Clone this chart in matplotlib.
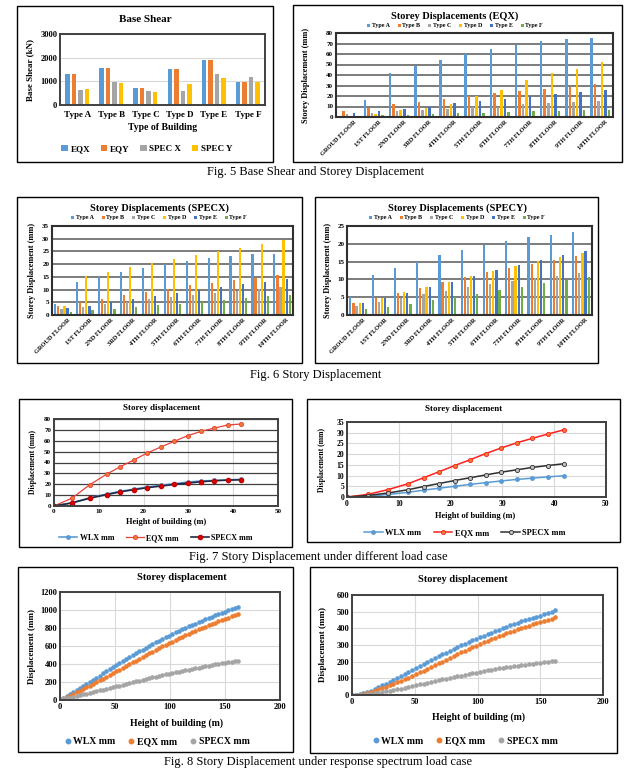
import matplotlib
matplotlib.use('Agg')
import matplotlib.pyplot as plt
from matplotlib.patches import Rectangle
from matplotlib.lines import Line2D
import numpy as np

# ---------------- DATA ----------------
building_types = ['Type A', 'Type B', 'Type C', 'Type D', 'Type E', 'Type F']
bs_eqx = [1300, 1570, 730, 1540, 1920, 990]
bs_eqy = [1300, 1570, 730, 1540, 1920, 990]
bs_specx = [620, 960, 590, 580, 1310, 1190]
bs_specy = [680, 930, 550, 880, 1160, 980]

floors = ['GROUD FLOOR', '1ST FLOOR', '2ND FLOOR', '3RD FLOOR', '4TH FLOOR', '5TH FLOOR',
          '6TH FLOOR', '7TH FLOOR', '8TH FLOOR', '9TH FLOOR', '10TH FLOOR']

eqx_a = [0, 16, 42, 49, 54.5, 60, 65, 68.5, 72, 74.5, 75.5]
eqx_b = [6, 8.5, 12, 14.5, 17.5, 20, 22.5, 25, 27, 29, 31]
eqx_c = [3, 4, 5.5, 7, 8, 10, 10, 12, 13, 14.5, 15]
eqx_d = [1, 3, 6.5, 8.5, 12.5, 20, 26, 35, 41.5, 46, 52]
eqx_e = [4, 6, 8, 10, 13, 15, 17.5, 20, 21.5, 23.5, 25.5]
eqx_f = [1, 1.5, 2, 2.5, 3.5, 4, 5, 5.5, 6, 7, 7]

specx_a = [4.3, 13, 15, 17, 18.5, 20, 21.3, 22.5, 23.2, 23.8, 24.1]
specx_b = [3.5, 5, 6.2, 7.8, 9, 10.3, 11.7, 12.7, 13.7, 14.6, 15.6]
specx_c = [2.5, 3.2, 4.3, 5.2, 6.2, 7.2, 8, 8.8, 9.5, 10.2, 10.9]
specx_d = [3.4, 15.2, 17, 18.7, 20.4, 21.9, 23.5, 25, 26.4, 27.8, 29.3]
specx_e = [2.6, 3.6, 5.1, 6.1, 7.3, 8.5, 9.9, 10.9, 12, 13.1, 14.2]
specx_f = [1.2, 1.9, 2.4, 3.1, 3.9, 4.3, 5.1, 5.8, 6.5, 7.3, 7.7]

specy_a = [5, 11.1, 13.1, 14.9, 16.8, 18.2, 19.6, 20.8, 21.8, 22.6, 23.3]
specy_b = [3.3, 4.9, 6.3, 7.7, 9.2, 10.7, 12, 13.3, 14.4, 15.5, 16.6]
specy_c = [2.6, 3.7, 4.8, 5.9, 6.8, 7.8, 8.7, 9.6, 10.4, 11, 11.8]
specy_d = [3.3, 4.9, 6.4, 7.8, 9.4, 10.9, 12.4, 13.8, 15.2, 16.3, 17.5]
specy_e = [3.3, 4.9, 6.3, 7.8, 9.4, 10.9, 12.6, 14, 15.4, 16.9, 18.1]
specy_f = [1.6, 2.3, 3.2, 4.1, 5, 6, 7, 8, 9, 9.9, 10.8]

# Fig 7
h7 = [0, 4, 8, 11.8, 14.8, 17.8, 20.8, 23.8, 26.8, 29.8, 32.8, 35.8, 38.8, 41.8]
f7a_wlx = [0, 3, 7.5, 11, 13.5, 15.5, 17.5, 19, 20.5, 22, 23, 23.5, 24, 24.5]
f7a_eqx = [0, 7.2, 19.6, 29.4, 36.1, 42.3, 48.7, 54.2, 59.4, 64.6, 68.6, 71.7, 74.5, 75.4]
f7a_specx = [0, 2.8, 7.2, 10.5, 13, 15, 16.8, 18.3, 19.8, 21, 22.3, 23.2, 23.8, 24.1]
f7b_wlx = [0, 0.3, 1.2, 2.2, 3.2, 4.1, 5, 5.9, 6.7, 7.5, 8.2, 8.8, 9.4, 9.9]
f7b_eqx = [0, 1.2, 3.5, 6.2, 9, 11.8, 14.7, 17.4, 20.3, 22.9, 25.3, 27.4, 29.4, 31.3]
f7b_specx = [0, 0.7, 1.9, 3.4, 4.9, 6.3, 7.7, 9, 10.3, 11.6, 12.7, 13.8, 14.7, 15.5]

# Fig 8
h8 = [0, 3, 6, 9, 12, 15, 18, 21, 24, 27, 30, 33, 36, 39, 42, 45, 48, 51, 54, 57, 60,
      63, 66, 69, 72, 75, 78, 81, 84, 87, 90, 93, 96, 99, 102, 105, 108, 111, 114, 117,
      120, 123, 126, 129, 132, 135, 138, 141, 144, 147, 150, 153, 156, 159, 162]
f8a_wlx = [0, 20, 42, 65, 88, 111, 134, 157, 180, 203, 226, 249, 272, 295, 318, 341, 364,
           387, 409, 431, 453, 475, 497, 518, 539, 560, 580, 600, 620, 640, 659, 678, 697,
           715, 733, 751, 768, 785, 801, 817, 833, 849, 865, 880, 895, 910, 925, 940, 954,
           968, 982, 996, 1010, 1024, 1038]
f8a_eqx = [0, 15, 32, 50, 68, 86, 104, 123, 142, 161, 180, 199, 218, 238, 258, 278, 298,
           318, 338, 358, 378, 398, 418, 438, 458, 478, 498, 518, 538, 557, 576, 595, 613,
           631, 649, 667, 684, 701, 718, 735, 752, 768, 784, 800, 815, 830, 845, 860, 874,
           888, 902, 916, 930, 944, 958]
f8a_specx = [0, 8, 17, 26, 35, 44, 53, 62, 71, 80, 89, 98, 107, 116, 125, 134, 143, 152,
             161, 170, 179, 188, 197, 206, 215, 224, 233, 242, 251, 260, 269, 277, 285, 293,
             301, 309, 316, 323, 330, 337, 344, 352, 360, 367, 374, 381, 388, 395, 402, 408,
             414, 420, 426, 432, 438]
f8b_wlx = [0, 1, 4, 10, 18, 27, 37, 47, 58, 69, 80, 91, 103, 115, 127, 139, 151, 163, 175,
           187, 199, 211, 222, 233, 244, 255, 266, 277, 288, 298, 308, 318, 328, 338, 348,
           357, 366, 375, 384, 393, 402, 410, 418, 426, 434, 442, 449, 456, 463, 470, 477,
           485, 493, 501, 509]
f8b_eqx = [0, 0, 2, 6, 12, 19, 26, 34, 42, 50, 59, 68, 77, 86, 95, 105, 115, 126, 136, 146,
           157, 168, 179, 190, 201, 212, 223, 234, 245, 256, 267, 277, 287, 297, 307, 317,
           327, 336, 345, 354, 363, 371, 379, 387, 395, 403, 410, 417, 424, 431, 438, 445,
           452, 459, 466]
f8b_specx = [0, 0, 1, 3, 6, 9, 12, 15, 19, 23, 27, 31, 35, 39, 44, 49, 54, 59, 64, 69, 74,
             79, 84, 89, 94, 99, 104, 108, 113, 117, 122, 126, 131, 135, 140, 144, 148, 152,
             156, 160, 164, 167, 171, 174, 177, 180, 183, 186, 189, 191, 194, 197, 200, 202,
             205]

# ---------------- STYLE ----------------
W, H = 635, 778
plt.rcParams['font.family'] = ['Liberation Serif', 'DejaVu Serif']
plt.rcParams['font.weight'] = 'bold'
C_BLUE, C_ORANGE, C_GREY, C_GOLD, C_DBLUE, C_GREEN = '#5B9BD5', '#ED7D31', '#A5A5A5', '#FFC000', '#4472C4', '#70AD47'
type_colors = [C_BLUE, C_ORANGE, C_GREY, C_GOLD, C_DBLUE, C_GREEN]

fig = plt.figure(figsize=(W / 100, H / 100), dpi=100)
fig.patch.set_facecolor('white')


def add_ax(l, t, r, b):
    return fig.add_axes([l / W, 1 - b / H, (r - l) / W, (b - t) / H])


def ftext(x, y, s, **kw):
    kw.setdefault('ha', 'center')
    kw.setdefault('va', 'center')
    fig.text(x / W, 1 - y / H, s, **kw)


def box(l, t, r, b, lw=1.0):
    fig.add_artist(Rectangle((l / W, 1 - b / H), (r - l) / W, (b - t) / H,
                             transform=fig.transFigure, fill=False,
                             edgecolor='black', linewidth=lw))


def style_ax(ax, spine_color='#404040', spine_lw=1.4, fs=5):
    for s in ax.spines.values():
        s.set_color(spine_color)
        s.set_linewidth(spine_lw)
    ax.tick_params(length=0, labelsize=fs, pad=2)
    ax.set_axisbelow(True)


def fleg(ax, handles, labels, x, y, fs, **kw):
    ax.legend(handles, labels, loc='center', bbox_to_anchor=(x / W, 1 - y / H),
              bbox_transform=fig.transFigure, frameon=False, fontsize=fs,
              ncol=len(labels), borderpad=0, **kw)


# ---------- Panel 1: Base shear ----------
box(17, 6, 273, 162)
ax1 = add_ax(60, 34, 265, 105)
x = np.arange(len(building_types))
series1 = [('EQX', bs_eqx, C_BLUE), ('EQY', bs_eqy, C_ORANGE),
           ('SPEC X', bs_specx, C_GREY), ('SPEC Y', bs_specy, C_GOLD)]
bh = []
for i, (nm, vals, col) in enumerate(series1):
    bh.append(ax1.bar(x + (i - 1.5) * 0.19, vals, width=0.13, color=col, label=nm))
ax1.set_xlim(-0.5, len(building_types) - 0.5)
ax1.set_ylim(0, 3000)
ax1.set_yticks([0, 1000, 2000, 3000])
ax1.set_xticks(x)
ax1.set_xticklabels(building_types)
ax1.yaxis.grid(True, color='#d9d9d9', lw=0.8)
style_ax(ax1, fs=6)
ax1.tick_params(axis='x', labelsize=6.5, pad=4)
ftext(145, 19, 'Base Shear', fontsize=8)
ftext(30, 70, 'Base Shear (kN)', fontsize=6.5, rotation=90)
ftext(163, 127, 'Type of Building', fontsize=7)
fleg(ax1, bh, [s[0] for s in series1], 147, 149, 6.5, handlelength=0.7, handleheight=0.7,
     handletextpad=0.3, columnspacing=1.2)


def storey_chart(l, t, r, b, data, ymax, ystep, title, tx, ty, ylx, grid_color='#595959'):
    ax = add_ax(l, t, r, b)
    n = len(floors)
    xx = np.arange(n)
    hs = []
    for i, (vals, col) in enumerate(zip(data, type_colors)):
        hs.append(ax.bar(xx + (i - 2.5) * 0.14, vals, width=0.1, color=col))
    ax.set_xlim(-0.5, n - 0.5)
    ax.set_ylim(0, ymax)
    ax.set_yticks(np.arange(0, ymax + 0.01, ystep))
    ax.yaxis.grid(True, color=grid_color, lw=1.1)
    style_ax(ax, spine_color='#303030', spine_lw=1.5, fs=5)
    ax.set_xticks(xx + 0.2)
    ax.set_xticklabels(floors, rotation=45, ha='right', rotation_mode='anchor', fontsize=4.6)
    ftext(tx, ty, title, fontsize=7.5)
    fleg(ax, hs, building_types, tx, ty + 10, 4.3, handlelength=0.5, handleheight=0.5,
         handletextpad=0.3, columnspacing=1.3)
    ftext(ylx, (t + b) / 2, 'Storey Displacement (mm)', fontsize=6, rotation=90)
    return ax


# ---------- Panel 2: EQX ----------
box(293, 5, 622, 162)
storey_chart(336, 33, 613, 117, [eqx_a, eqx_b, eqx_c, eqx_d, eqx_e, eqx_f], 80, 10,
             'Storey Displacements (EQX)', 455, 16, 306)

ftext(316, 172, 'Fig. 5 Base Shear and Storey Displacement', fontsize=9, fontweight='normal')

# ---------- Panel 3: SPECX ----------
box(17, 197, 302, 363)
storey_chart(52, 226, 293, 315, [specx_a, specx_b, specx_c, specx_d, specx_e, specx_f], 35, 5,
             'Storey Displacements (SPECX)', 159, 208, 32)

# ---------- Panel 4: SPECY ----------
box(315, 197, 598, 363)
storey_chart(347, 226, 592, 315, [specy_a, specy_b, specy_c, specy_d, specy_e, specy_f], 25, 5,
             'Storey Displacements (SPECY)', 457, 208, 328)

ftext(316, 375, 'Fig. 6 Story Displacement', fontsize=9, fontweight='normal')

# ---------- Panel 5: Fig 7 left ----------
box(19, 399, 292, 547)
ax5 = add_ax(54, 419, 278, 506)
l1, = ax5.plot(h7, f7a_wlx, color=C_BLUE, lw=1.2, marker='o', ms=2.5, mfc=C_BLUE, mec=C_BLUE)
l2, = ax5.plot(h7, f7a_eqx, color='#E8403A', lw=0.9, marker='o', ms=3, mfc=C_ORANGE, mec='#E8403A', mew=0.6)
l3, = ax5.plot(h7, f7a_specx, color='#1F2A44', lw=1.2, marker='o', ms=3, mfc='#E00000', mec='#C00000')
ax5.set_xlim(0, 50)
ax5.set_ylim(0, 80)
ax5.set_xticks(range(0, 51, 10))
ax5.set_yticks(range(0, 81, 10))
ax5.yaxis.grid(True, color='#404040', lw=0.9)
ax5.xaxis.grid(True, color='#d9d9d9', lw=0.8)
style_ax(ax5, fs=5)
ftext(162, 408, 'Storey displacement', fontsize=6.5)
ftext(33, 462, 'Displacement (mm)', fontsize=5.5, rotation=90)
ftext(166, 522, 'Height of building (m)', fontsize=6)
fleg(ax5, [l1, l2, l3], ['WLX mm', 'EQX mm', 'SPECX mm'], 156, 538, 5.8,
     handlelength=2.2, handletextpad=0.3, columnspacing=1.5)

# ---------- Panel 6: Fig 7 right ----------
box(307, 399, 620, 542)
ax6 = add_ax(347, 422, 606, 497)
m1, = ax6.plot(h7, f7b_wlx, color=C_BLUE, lw=1.1, marker='o', ms=2.5, mfc=C_BLUE, mec=C_BLUE)
m2, = ax6.plot(h7, f7b_eqx, color='#FF2020', lw=1.1, marker='o', ms=3, mfc=C_ORANGE, mec='#FF2020', mew=0.6)
m3, = ax6.plot(h7, f7b_specx, color='#303030', lw=1.1, marker='o', ms=3, mfc='#bfbfbf', mec='#303030', mew=0.6)
ax6.set_xlim(0, 50)
ax6.set_ylim(0, 35)
ax6.set_xticks(range(0, 51, 10))
ax6.set_yticks(range(0, 36, 5))
ax6.grid(True, color='#d9d9d9', lw=0.8)
style_ax(ax6, fs=5.5)
ftext(464, 409, 'Storey displacement', fontsize=6.5)
ftext(322, 460, 'Displacement (mm)', fontsize=5.5, rotation=90)
ftext(475, 516, 'Height of building (m)', fontsize=6)
fleg(ax6, [m1, m2, m3], ['WLX mm', 'EQX mm', 'SPECX mm'], 465, 533, 6,
     handlelength=2.2, handletextpad=0.3, columnspacing=1.5)

ftext(318, 557, 'Fig. 7 Story Displacement under different load case', fontsize=9, fontweight='normal')

# ---------- Panel 7: Fig 8 left ----------
box(18, 567, 293, 752)
ax7 = add_ax(60, 592, 280, 700)
n1, = ax7.plot(h8, f8a_wlx, ls='none', marker='o', ms=2.3, color=C_BLUE)
n2, = ax7.plot(h8, f8a_eqx, ls='none', marker='o', ms=2.3, color=C_ORANGE)
n3, = ax7.plot(h8, f8a_specx, ls='none', marker='o', ms=2.3, color=C_GREY)
ax7.set_xlim(0, 200)
ax7.set_ylim(0, 1200)
ax7.set_xticks(range(0, 201, 50))
ax7.set_yticks(range(0, 1201, 200))
ax7.grid(True, color='#d9d9d9', lw=0.8)
style_ax(ax7, fs=6)
ftext(182, 577, 'Storey displacement', fontsize=7.5)
ftext(32, 646, 'Displacement (mm)', fontsize=6.5, rotation=90)
ftext(177, 723, 'Height of building (m)', fontsize=7)
fleg(ax7, [n1, n2, n3], ['WLX mm', 'EQX mm', 'SPECX mm'], 157, 742, 7,
     handlelength=0.6, handletextpad=0.3, columnspacing=1.3, markerscale=1.4)

# ---------- Panel 8: Fig 8 right ----------
box(310, 567, 617, 753)
ax8 = add_ax(352, 595, 603, 695)
p1, = ax8.plot(h8, f8b_wlx, ls='none', marker='o', ms=2.3, color=C_BLUE)
p2, = ax8.plot(h8, f8b_eqx, ls='none', marker='o', ms=2.3, color=C_ORANGE)
p3, = ax8.plot(h8, f8b_specx, ls='none', marker='o', ms=2.3, color=C_GREY)
ax8.set_xlim(0, 200)
ax8.set_ylim(0, 600)
ax8.set_xticks(range(0, 201, 50))
ax8.set_yticks(range(0, 601, 100))
ax8.grid(True, color='#d9d9d9', lw=0.8)
style_ax(ax8, fs=6)
ftext(463, 579, 'Storey displacement', fontsize=7.5)
ftext(323, 645, 'Displacement (mm)', fontsize=6.5, rotation=90)
ftext(478, 717, 'Height of building (m)', fontsize=7)
fleg(ax8, [p1, p2, p3], ['WLX mm', 'EQX mm', 'SPECX mm'], 465, 741, 7,
     handlelength=0.6, handletextpad=0.3, columnspacing=1.3, markerscale=1.4)

ftext(318, 762, 'Fig. 8 Story Displacement under response spectrum load case', fontsize=9, fontweight='normal')

fig.savefig('out.png', dpi=100, facecolor='white')
